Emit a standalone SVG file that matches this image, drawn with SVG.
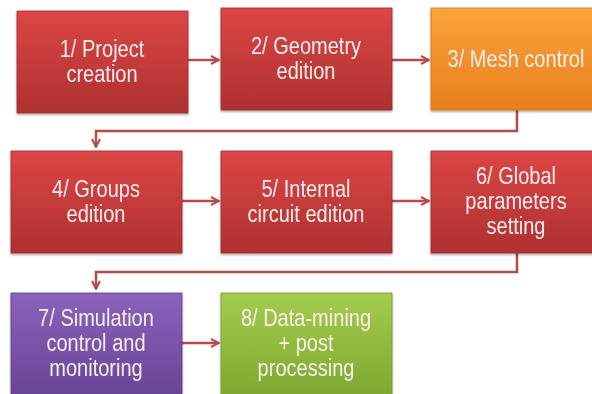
<svg xmlns="http://www.w3.org/2000/svg" width="592" height="394" viewBox="0 0 592 394">
<defs>
<linearGradient id="gRed" x1="0" y1="0" x2="0" y2="1">
<stop offset="0" stop-color="#dc4646"/><stop offset="1" stop-color="#ae3030"/>
</linearGradient>
<linearGradient id="gOrange" x1="0" y1="0" x2="0" y2="1">
<stop offset="0" stop-color="#fba33a"/><stop offset="1" stop-color="#e8801c"/>
</linearGradient>
<linearGradient id="gPurple" x1="0" y1="0" x2="0" y2="1">
<stop offset="0" stop-color="#8a62bc"/><stop offset="1" stop-color="#6a4596"/>
</linearGradient>
<linearGradient id="gGreen" x1="0" y1="0" x2="0" y2="1">
<stop offset="0" stop-color="#a4cc4c"/><stop offset="1" stop-color="#7fa832"/>
</linearGradient>
<filter id="sh" x="-10%" y="-10%" width="120%" height="130%">
<feDropShadow dx="0" dy="1.5" stdDeviation="1.2" flood-color="#000" flood-opacity="0.35"/>
</filter>
<marker id="ah" viewBox="0 0 10 10" refX="9" refY="5" markerWidth="4" markerHeight="4" orient="auto" markerUnits="strokeWidth">
<path d="M1,1 L9,5 L1,9" fill="none" stroke="#b94a4a" stroke-width="2"/>
</marker>
</defs>
<style>
.box{filter:url(#sh);}
.red{fill:url(#gRed);stroke:#a02c2c;stroke-width:0.8;}
.orange{fill:url(#gOrange);stroke:#d07018;stroke-width:0.8;}
.purple{fill:url(#gPurple);stroke:#5e3c88;stroke-width:0.8;}
.green{fill:url(#gGreen);stroke:#74982c;stroke-width:0.8;}
text{font-family:"Liberation Sans",Arial,sans-serif;font-size:24px;fill:#fbeeee;text-anchor:middle;}
.c{fill:none;stroke:#b94a4a;stroke-width:2.5;marker-end:url(#ah);}
</style>
<rect width="592" height="394" fill="#ffffff"/>
<g id="connectors">
<path class="c" d="M188,60 L219,60"/>
<path class="c" d="M392,60 L429,60"/>
<path class="c" d="M517,110 L517,131 L96,131 L96,147"/>
<path class="c" d="M182,201 L219,201"/>
<path class="c" d="M392,201 L429,201"/>
<path class="c" d="M517,253 L517,272 L96,272 L96,289"/>
<path class="c" d="M182,343 L219,343"/>
</g>
<g id="node1" class="box"><rect class="red" x="17" y="11" width="171" height="102"/>
<g transform="translate(102 0) scale(0.835 1)"><text x="0" y="57">1/ Project</text><text x="0" y="82">creation</text></g></g>
<g id="node2" class="box"><rect class="red" x="221" y="8" width="171" height="102"/>
<g transform="translate(306 0) scale(0.835 1)"><text x="0" y="54">2/ Geometry</text><text x="0" y="79">edition</text></g></g>
<g id="node3" class="box"><rect class="orange" x="431" y="8" width="171" height="102"/>
<g transform="translate(516 0) scale(0.835 1)"><text x="0" y="67">3/ Mesh control</text></g></g>
<g id="node4" class="box"><rect class="red" x="11" y="151" width="171" height="102"/>
<g transform="translate(96 0) scale(0.835 1)"><text x="0" y="197">4/ Groups</text><text x="0" y="222">edition</text></g></g>
<g id="node5" class="box"><rect class="red" x="221" y="151" width="171" height="102"/>
<g transform="translate(306 0) scale(0.835 1)"><text x="0" y="197">5/ Internal</text><text x="0" y="222">circuit edition</text></g></g>
<g id="node6" class="box"><rect class="red" x="431" y="151" width="171" height="102"/>
<g transform="translate(516 0) scale(0.835 1)"><text x="0" y="184">6/ Global</text><text x="0" y="209">parameters</text><text x="0" y="234">setting</text></g></g>
<g id="node7" class="box"><rect class="purple" x="11" y="293" width="171" height="102"/>
<g transform="translate(96 0) scale(0.835 1)"><text x="0" y="326">7/ Simulation</text><text x="0" y="351">control and</text><text x="0" y="376">monitoring</text></g></g>
<g id="node8" class="box"><rect class="green" x="221" y="293" width="171" height="102"/>
<g transform="translate(306 0) scale(0.835 1)"><text x="0" y="326">8/ Data-mining</text><text x="0" y="351">+ post</text><text x="0" y="376">processing</text></g></g>
</svg>
